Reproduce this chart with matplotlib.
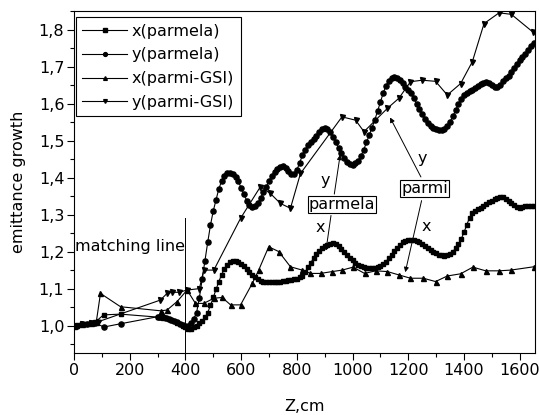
import numpy as np
import matplotlib
matplotlib.use("Agg")
import matplotlib.pyplot as plt
from matplotlib.ticker import MultipleLocator, FuncFormatter

plt.rcParams['font.family'] = ['DejaVu Sans']
FS = 11.5

# x(parmela): sparse start then dense sampling every 10 cm from 300 to 1650
z_start_xp = [0, 11, 29, 47, 61, 77, 106, 167]
v_start_xp = [1.0, 1.002, 1.004, 1.005, 1.008, 1.01, 1.029, 1.031]
z_dense = list(range(300, 1651, 10))
v_dense_xp = [
    1.023, 1.022, 1.021, 1.020, 1.018, 1.015, 1.012, 1.008, 1.004, 1.000,
    0.995, 0.991, 0.992, 0.995, 1.000, 1.006, 1.013, 1.022, 1.035, 1.055,
    1.076, 1.098, 1.119, 1.138, 1.153, 1.165, 1.172, 1.175, 1.175, 1.172,
    1.167, 1.160, 1.152, 1.144, 1.137, 1.130, 1.125, 1.121, 1.119, 1.118,
    1.118, 1.118, 1.118, 1.118, 1.119, 1.120, 1.121, 1.122, 1.123, 1.125,
    1.127, 1.130, 1.135, 1.145, 1.157, 1.170, 1.182, 1.193, 1.202, 1.210,
    1.215, 1.219, 1.221, 1.222, 1.220, 1.215, 1.208, 1.200, 1.192, 1.184,
    1.176, 1.170, 1.165, 1.161, 1.158, 1.156, 1.155, 1.155, 1.156, 1.158,
    1.161, 1.166, 1.173, 1.182, 1.192, 1.202, 1.211, 1.219, 1.225, 1.229,
    1.231, 1.232, 1.231, 1.229, 1.226, 1.221, 1.216, 1.210, 1.205, 1.200,
    1.195, 1.192, 1.190, 1.189, 1.190, 1.194, 1.200, 1.209, 1.220, 1.234,
    1.252, 1.272, 1.292, 1.304, 1.310, 1.315, 1.319, 1.324, 1.328, 1.333,
    1.338, 1.342, 1.346, 1.348, 1.347, 1.343, 1.337, 1.331, 1.325, 1.321,
    1.319, 1.320, 1.322, 1.323, 1.324, 1.324,
]

# y(parmela)
z_start_yp = [0, 11, 29, 47, 61, 77, 106, 167]
v_start_yp = [1.0, 1.0, 1.003, 1.005, 1.006, 1.008, 0.996, 1.005]
v_dense_yp = [
    1.024, 1.023, 1.022, 1.021, 1.019, 1.016, 1.013, 1.009, 1.005, 1.001,
    0.998, 1.000, 1.008, 1.018, 1.035, 1.075, 1.125, 1.175, 1.225, 1.272,
    1.310, 1.340, 1.370, 1.390, 1.405, 1.412, 1.413, 1.410, 1.402, 1.390,
    1.372, 1.355, 1.338, 1.326, 1.320, 1.322, 1.330, 1.345, 1.360, 1.375,
    1.390, 1.405, 1.415, 1.422, 1.428, 1.430, 1.425, 1.418, 1.410, 1.410,
    1.420, 1.440, 1.460, 1.475, 1.487, 1.497, 1.505, 1.513, 1.522, 1.530,
    1.533, 1.532, 1.524, 1.510, 1.495, 1.480, 1.465, 1.452, 1.442, 1.436,
    1.435, 1.438, 1.446, 1.458, 1.475, 1.495, 1.515, 1.535, 1.556, 1.580,
    1.605, 1.628, 1.648, 1.662, 1.669, 1.671, 1.668, 1.663, 1.655, 1.646,
    1.637, 1.628, 1.615, 1.600, 1.585, 1.571, 1.558, 1.548, 1.540, 1.534,
    1.530, 1.528, 1.528, 1.531, 1.538, 1.550, 1.565, 1.582, 1.598, 1.612,
    1.622, 1.628, 1.633, 1.637, 1.642, 1.648, 1.652, 1.655, 1.657, 1.655,
    1.650, 1.645, 1.645, 1.650, 1.660, 1.668, 1.675, 1.685, 1.697, 1.708,
    1.718, 1.727, 1.735, 1.745, 1.755, 1.763,
]

# x(parmi-GSI)
z_xg = [0, 29, 61, 80, 95, 167, 311, 334, 370, 406, 436, 466, 502, 532, 562,
        598, 640, 663, 699, 735, 777, 819, 849, 885, 927, 963, 1002, 1043,
        1083, 1125, 1166, 1208, 1254, 1298, 1340, 1388, 1432, 1478, 1526,
        1568, 1651]
v_xg = [1.0, 1.004, 1.007, 1.01, 1.087, 1.051, 1.04, 1.042, 1.065, 1.096,
        1.06, 1.06, 1.074, 1.076, 1.056, 1.056, 1.114, 1.15, 1.213, 1.2,
        1.159, 1.15, 1.141, 1.141, 1.146, 1.15, 1.158, 1.141, 1.148, 1.146,
        1.137, 1.128, 1.128, 1.119, 1.134, 1.14, 1.158, 1.148, 1.148, 1.15,
        1.159]

# y(parmi-GSI)
z_yg = [0, 29, 61, 85, 310, 334, 352, 376, 406, 450, 466, 502, 598, 669,
        705, 741, 777, 813, 962, 1011, 1041, 1125, 1166, 1208, 1250, 1298,
        1340, 1388, 1430, 1472, 1526, 1570, 1646]
v_yg = [1.0, 1.003, 1.007, 1.01, 1.069, 1.087, 1.09, 1.09, 1.096, 1.10,
        1.15, 1.15, 1.29, 1.375, 1.357, 1.33, 1.317, 1.411, 1.564, 1.555,
        1.524, 1.587, 1.614, 1.659, 1.663, 1.66, 1.623, 1.654, 1.713, 1.816,
        1.845, 1.841, 1.794]

fig = plt.figure(figsize=(5.39, 4.15), dpi=100)
ax = fig.add_axes([0.1373, 0.1494, 0.8553, 0.8241])

lw = 0.8
ax.plot(z_start_xp + z_dense, v_start_xp + v_dense_xp, color='black', lw=lw,
        marker='s', ms=3.5, label='x(parmela)')
ax.plot(z_start_yp + z_dense, v_start_yp + v_dense_yp, color='black', lw=lw,
        marker='o', ms=3.7, label='y(parmela)')
ax.plot(z_xg, v_xg, color='black', lw=lw, marker='^', ms=3.6,
        label='x(parmi-GSI)')
ax.plot(z_yg, v_yg, color='black', lw=lw, marker='v', ms=3.6,
        label='y(parmi-GSI)')

ax.set_xlim(0, 1655)
ax.set_ylim(0.926, 1.85)
ax.xaxis.set_major_locator(MultipleLocator(200))
ax.xaxis.set_minor_locator(MultipleLocator(100))
ax.yaxis.set_major_locator(MultipleLocator(0.1))
ax.yaxis.set_minor_locator(MultipleLocator(0.05))
ax.yaxis.set_major_formatter(FuncFormatter(lambda v, p: f"{v:.1f}".replace('.', ',')))
ax.tick_params(which='major', direction='out', length=5, width=0.8,
               labelsize=FS, pad=2)
ax.tick_params(which='minor', direction='out', length=3, width=0.8)
for s in ax.spines.values():
    s.set_linewidth(0.8)

ax.set_xlabel('Z,cm', fontsize=FS, labelpad=15)
ax.set_ylabel('emittance growth', fontsize=FS, labelpad=9)

# matching line
ax.plot([400, 400], [0.926, 1.291], color='black', lw=0.7)
ax.text(398, 1.213, 'matching line', ha='right', va='center', fontsize=FS)

# annotations
box = dict(boxstyle='square,pad=0.05', fc='white', ec='black', lw=0.8)
arr = dict(arrowstyle='-|>', lw=0.7, color='black', mutation_scale=7)
ax.annotate('', xy=(957, 1.469), xytext=(933, 1.348), arrowprops=arr)
ax.annotate('', xy=(903, 1.195), xytext=(924, 1.305), arrowprops=arr)
ax.annotate('', xy=(1130, 1.569), xytext=(1250, 1.395), arrowprops=arr)
ax.annotate('', xy=(1187, 1.137), xytext=(1250, 1.345), arrowprops=arr)
ax.text(961, 1.327, 'parmela', ha='center', va='center', fontsize=FS, bbox=box)
ax.text(1258, 1.370, 'parmi', ha='center', va='center', fontsize=FS, bbox=box)
ax.text(903, 1.393, 'y', ha='center', va='center', fontsize=FS)
ax.text(885, 1.264, 'x', ha='center', va='center', fontsize=FS)
ax.text(1250, 1.452, 'y', ha='center', va='center', fontsize=FS)
ax.text(1266, 1.267, 'x', ha='center', va='center', fontsize=FS)

leg = ax.legend(loc='upper left', bbox_to_anchor=(0.004, 0.982),
                borderaxespad=0, fontsize=FS, handlelength=2.8,
                handletextpad=0.3, labelspacing=0.55, borderpad=0.4,
                fancybox=False, framealpha=1, edgecolor='black',
                markerscale=0.75)
leg.get_frame().set_linewidth(0.8)

fig.savefig('out.png', dpi=100)
